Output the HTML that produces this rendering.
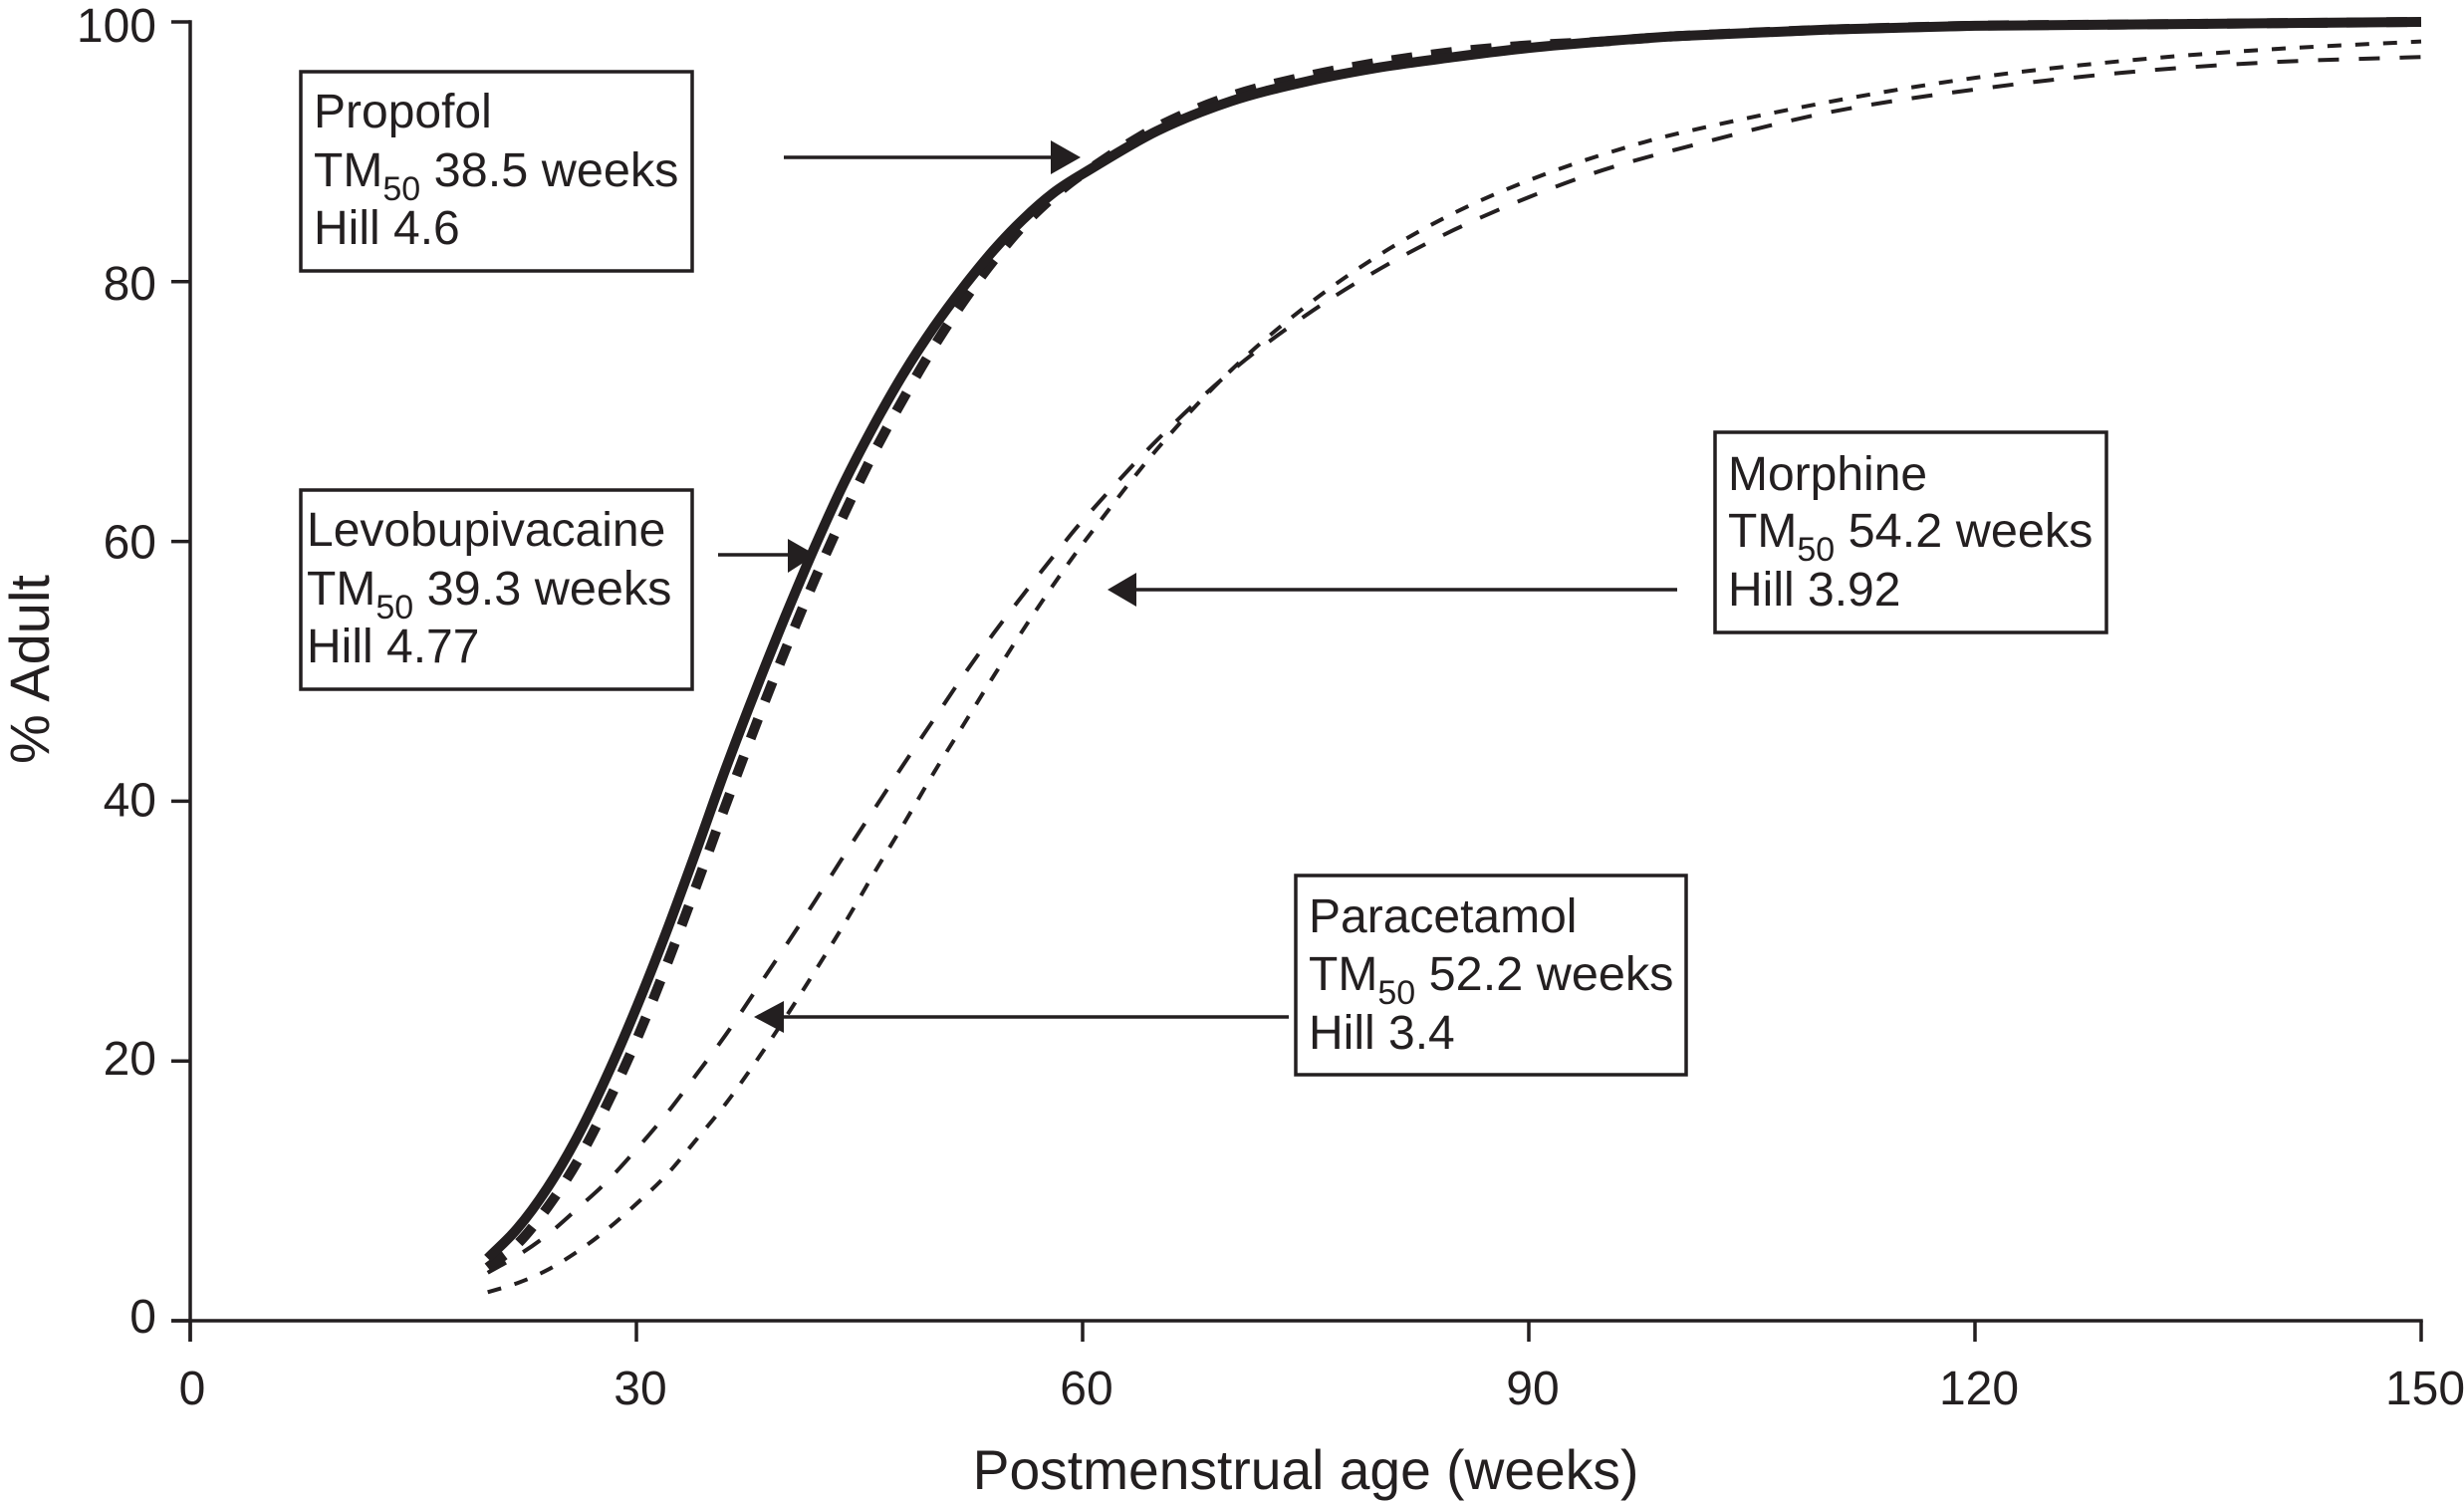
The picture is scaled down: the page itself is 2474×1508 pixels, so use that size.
<!DOCTYPE html>
<html lang="en">
<head>
<meta charset="utf-8">
<title>Maturation curves</title>
<style>
html,body{margin:0;padding:0;background:#fff;width:2474px;height:1508px;overflow:hidden}
svg{display:block}
text{font-family:"Liberation Sans",Arial,sans-serif;fill:#231f20}
.tick{font-size:48px}
.title{font-size:55.2px}
.box-text{font-size:48px}
.sub{font-size:34px}
.val{font-size:48.6px}
.box{fill:#fff;stroke:#231f20;stroke-width:3.5}
.leader{stroke:#231f20;stroke-width:3.5;fill:none}
.head{fill:#231f20}
</style>
</head>
<body>
<svg id="chart" xmlns="http://www.w3.org/2000/svg" width="2474" height="1508" viewBox="0 0 2474 1508">
  <g id="series-layer"></g>
  <g id="axis-layer"></g>
  <text class="title" x="1311" y="1495" text-anchor="middle">Postmenstrual age (weeks)</text>
  <text class="title" style="font-size:56px" transform="translate(49 672) rotate(-90)" text-anchor="middle">% Adult</text>

  <g>
    <rect class="box" x="302" y="72" width="393" height="200"/>
    <text class="box-text" x="315" y="128">Propofol</text>
    <text class="box-text" x="315" y="187">TM<tspan class="sub" dy="14">50</tspan><tspan class="val" dy="-14"> 38.5 weeks</tspan></text>
    <text class="box-text" x="315" y="245">Hill 4.6</text>
    <line class="leader" x1="787" y1="158" x2="1058" y2="158"/>
    <polygon class="head" points="1055,141 1085,158 1055,175"/>
  </g>

  <g>
    <rect class="box" x="302" y="492" width="393" height="200"/>
    <text class="box-text" x="308" y="548">Levobupivacaine</text>
    <text class="box-text" x="308" y="607">TM<tspan class="sub" dy="14">50</tspan><tspan class="val" dy="-14"> 39.3 weeks</tspan></text>
    <text class="box-text" x="308" y="665">Hill 4.77</text>
    <line class="leader" x1="721" y1="557" x2="794" y2="557"/>
    <polygon class="head" points="791,541 819,557 791,575"/>
  </g>

  <g>
    <rect class="box" x="1722" y="434" width="393" height="201"/>
    <text class="box-text" x="1735" y="492">Morphine</text>
    <text class="box-text" x="1735" y="549">TM<tspan class="sub" dy="14">50</tspan><tspan class="val" dy="-14"> 54.2 weeks</tspan></text>
    <text class="box-text" x="1735" y="608">Hill 3.92</text>
    <line class="leader" x1="1684" y1="592" x2="1138" y2="592"/>
    <polygon class="head" points="1141,575 1112,592 1141,609"/>
  </g>

  <g>
    <rect class="box" x="1301" y="879" width="392" height="200"/>
    <text class="box-text" x="1314" y="936">Paracetamol</text>
    <text class="box-text" x="1314" y="994">TM<tspan class="sub" dy="14">50</tspan><tspan class="val" dy="-14"> 52.2 weeks</tspan></text>
    <text class="box-text" x="1314" y="1053">Hill 3.4</text>
    <line class="leader" x1="1294" y1="1021" x2="784" y2="1021"/>
    <polygon class="head" points="787,1005 757,1021 787,1037"/>
  </g>
</svg>
<script>
const xTicks = [0, 30, 60, 90, 120, 150];
const yTicks = [0, 20, 40, 60, 80, 100];
const ages = [20,22,24,26,28,30,32,34,36,38,40,42,44,46,48,50,52,54,56,58,60,65,70,75,80,85,90,95,100,110,120,130,140,150];
const propofol = [4.8,7.1,10.2,14.1,18.8,24.1,29.9,36.1,42.5,48.5,54.2,59.6,64.6,69.0,73.0,76.5,79.6,82.4,84.8,86.8,88.3,91.6,93.9,95.4,96.5,97.3,98.0,98.5,98.9,99.4,99.7,99.8,99.9,100];
const levobupivacaine = [4.1,5.9,8.7,12.2,16.6,21.6,27.3,33.4,39.7,45.8,51.6,57.1,62.2,66.9,71.1,75.0,78.5,81.6,84.3,86.5,88.3,91.9,94.3,95.8,96.9,97.7,98.2,98.5,98.9,99.4,99.7,99.8,99.9,100];
const paracetamol = [3.7,5.0,6.6,8.6,10.7,13.2,15.9,18.9,22.0,25.4,28.8,32.3,35.9,39.4,42.9,46.3,49.7,52.9,55.9,58.8,61.6,67.8,73.1,77.4,81.0,84.0,86.5,88.6,90.2,93.0,94.8,96.1,96.9,97.3];
const morphine = [2.2,2.9,3.9,5.3,7.0,9.0,11.2,13.9,16.7,19.9,23.3,26.9,30.6,34.5,38.3,42.2,45.9,49.6,53.2,56.6,59.8,67.1,73.2,78.1,82.1,85.3,87.8,89.8,91.4,93.8,95.7,97.0,97.9,98.5];

const svgNS = 'http://www.w3.org/2000/svg';
const X0 = 191, XW = 2240, XMAX = 150;
const Y0 = 1326, YH = 1304, YMAX = 100;
function xScale(v) { return X0 + v / XMAX * XW; }
function yScale(v) { return Y0 - v / YMAX * YH; }
function pathFor(values) {
  const xs = ages.map(xScale);
  const ys = values.map(yScale);
  const n = xs.length;
  function slope(i) {
    const a = Math.max(i - 1, 0), b = Math.min(i + 1, n - 1);
    return (ys[b] - ys[a]) / (xs[b] - xs[a]);
  }
  let d = 'M' + xs[0].toFixed(1) + ' ' + ys[0].toFixed(1);
  for (let i = 0; i < n - 1; i++) {
    const h = (xs[i + 1] - xs[i]) / 3;
    d += ' C' + (xs[i] + h).toFixed(1) + ' ' + (ys[i] + slope(i) * h).toFixed(1) +
         ' ' + (xs[i + 1] - h).toFixed(1) + ' ' + (ys[i + 1] - slope(i + 1) * h).toFixed(1) +
         ' ' + xs[i + 1].toFixed(1) + ' ' + ys[i + 1].toFixed(1);
  }
  return d;
}
function addSeries(values, width, dash) {
  const p = document.createElementNS(svgNS, 'path');
  p.setAttribute('d', pathFor(values));
  p.setAttribute('fill', 'none');
  p.setAttribute('stroke', '#231f20');
  p.setAttribute('stroke-width', width);
  p.setAttribute('stroke-linejoin', 'round');
  if (dash) p.setAttribute('stroke-dasharray', dash);
  document.getElementById('series-layer').appendChild(p);
  return p;
}
const morphineLine = addSeries(morphine, 4, '14 14');


const paracetamolLine = addSeries(paracetamol, 4, '21 20');


const levobupivacaineLine = addSeries(levobupivacaine, 10, '21 19');


const propofolLine = addSeries(propofol, 10, null);



const axisLayer = document.getElementById('axis-layer');
function addLine(x1, y1, x2, y2) {
  const l = document.createElementNS(svgNS, 'line');
  l.setAttribute('x1', x1);
  l.setAttribute('y1', y1);
  l.setAttribute('x2', x2);
  l.setAttribute('y2', y2);
  l.setAttribute('stroke', '#231f20');
  l.setAttribute('stroke-width', '3.5');
  axisLayer.appendChild(l);
  return l;
}
function addLabel(x, y, anchor, str) {
  const t = document.createElementNS(svgNS, 'text');
  t.setAttribute('x', x);
  t.setAttribute('y', y);
  t.setAttribute('text-anchor', anchor);
  t.setAttribute('class', 'tick');
  t.textContent = str;
  axisLayer.appendChild(t);
  return t;
}
const xAxisLine = addLine(172, Y0, xScale(XMAX) + 1.75, Y0);


const yAxisLine = addLine(X0, yScale(YMAX) - 1.75, X0, Y0 + 21);


xTicks.forEach(function (v) {
  const tick = addLine(xScale(v), Y0, xScale(v), Y0 + 21);
  
  
  const label = addLabel(xScale(v) + (v === 0 ? 2 : 4), 1410, 'middle', String(v));
  
  
});
yTicks.forEach(function (v) {
  const tick = addLine(172, yScale(v), X0, yScale(v));
  
  
  const label = addLabel(157, yScale(v) + 12 + 0.08 * v, 'end', String(v));
  
  
});
</script>
</body>
</html>
